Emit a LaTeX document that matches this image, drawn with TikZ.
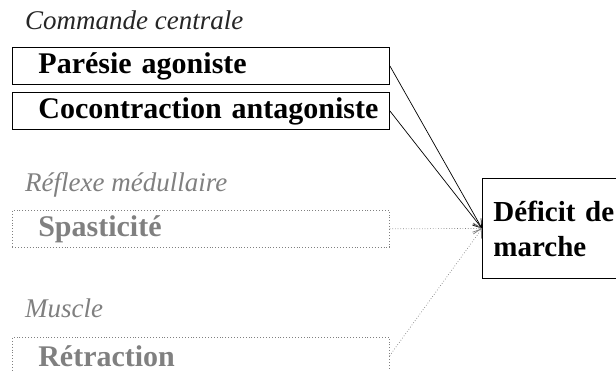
\documentclass[tikz,border=0pt]{standalone}
\usepackage{fontspec}
\setmainfont{Liberation Serif}
\usetikzlibrary{arrows.meta}
\definecolor{faded}{gray}{0.5}
\tikzset{
  cause/.style={draw, line width=0.9pt, rectangle, anchor=north west,
    minimum width=377pt, minimum height=37pt, text width=377pt,
    inner xsep=0pt, inner ysep=0pt, align=left,
    execute at begin node={\hspace*{26pt}},
    font=\fontsize{30}{32}\selectfont\bfseries},
  faint/.style={cause, draw=faded, dotted, line width=0.6pt, text=faded},
  level/.style={anchor=base west, inner sep=0pt,
    font=\fontsize{27}{30}\selectfont\itshape},
  link/.style={line width=0.7pt, -{Straight Barb[length=8pt,width=11pt]}},
}
\begin{document}
\begin{tikzpicture}[x=1pt,y=-1pt]
\clip (0,0) rectangle (616,371);

\node[level, text=black!85] (central) at (25,30) {Commande centrale};
\node[cause] (paresie) at (12,47) {Parésie agoniste};
\node[cause] (cocontr) at (12,92) {Cocontraction antagoniste};

\node[level, text=faded] (reflexe) at (25,192) {Réflexe médullaire};
\node[faint] (spast) at (12,210) {Spasticité};

\node[level, text=faded] (muscle) at (25,318) {Muscle};
\node[faint] (retract) at (12,337) {Rétraction};

\node[draw, line width=0.9pt, anchor=north west, minimum height=100pt,
  text width=140pt, inner xsep=11pt, inner ysep=0pt, align=left,
  font=\fontsize{29}{35}\selectfont\bfseries] (deficit) at (482,178) {Déficit de\\marche};

\draw[link] (paresie.east) -- (deficit.west);
\draw[link] (cocontr.east) -- (deficit.west);
\draw[link, faded, dotted] (spast.east) -- (deficit.west);
\draw[link, faded, dotted] (retract.east) -- (deficit.west);
\end{tikzpicture}
\end{document}
